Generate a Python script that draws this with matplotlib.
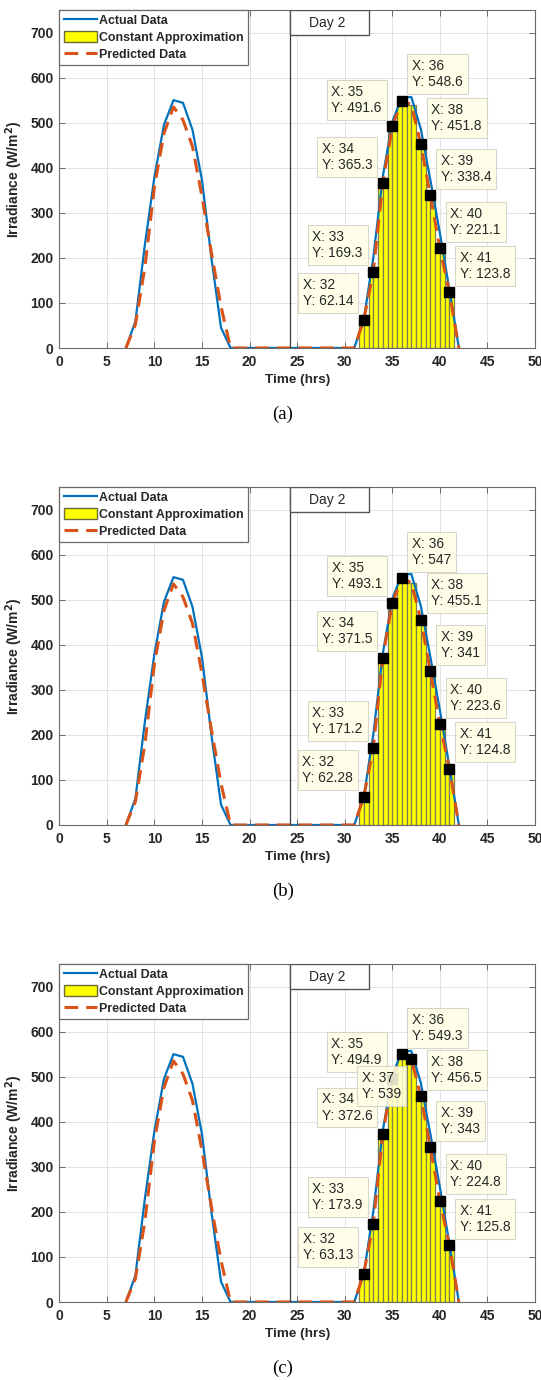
import numpy as np
import matplotlib
matplotlib.use("Agg")
import matplotlib.pyplot as plt
from matplotlib.patches import Rectangle, Patch
from matplotlib.lines import Line2D

plt.rcParams['font.family'] = ['Liberation Sans', 'DejaVu Sans']

# ---------------- data ----------------
actual_hours = list(range(7, 43))
actual_values = [0, 59, 230, 380, 495, 550, 544, 484, 372, 198, 45, 0,
                 0, 0, 0, 0, 0, 0, 0, 0, 0, 0, 0, 0,
                 0, 62, 200, 380, 502, 556, 557, 486, 373, 255, 130, 0]

pred_base_hours = list(range(7, 32))
pred_base_values = [0, 52, 180, 358, 476, 535, 506, 447, 336, 210, 92, 0,
                    0, 0, 0, 0, 0, 0, 0, 0, 0, 0, 0, 0, 0]

day2_hours = [32, 33, 34, 35, 36, 37, 38, 39, 40, 41]
pred_day2_a = [62.14, 169.3, 365.3, 491.6, 548.6, 540, 451.8, 338.4, 221.1, 123.8]
pred_day2_b = [62.28, 171.2, 371.5, 493.1, 547, 538, 455.1, 341, 223.6, 124.8]
pred_day2_c = [63.13, 173.9, 372.6, 494.9, 549.3, 539, 456.5, 343, 224.8, 125.8]
pred_end_hour = 42
pred_end_value = 0

tips_a = [32, 33, 34, 35, 36, 38, 39, 40, 41]
tips_b = [32, 33, 34, 35, 36, 38, 39, 40, 41]
tips_c = [32, 33, 34, 35, 36, 38, 39, 40, 41, 37]

captions = ['(a)', '(b)', '(c)']
x_ticks = list(range(0, 51, 5))
y_ticks = list(range(0, 701, 100))
day_line_x = 24.3

# ---------------- style ----------------
W, H = 541, 1380
BLUE = '#0072BD'
ORANGE = '#D95319'
AXC = '#6a6a6a'
TXT = '#262626'

fig = plt.figure(figsize=(W / 100, H / 100), dpi=100)
ax_l, ax_r, ax_hpx = 59.3, 535.0, 338.0
bottoms = [348, 825, 1302]

panels = [(pred_day2_a, tips_a), (pred_day2_b, tips_b), (pred_day2_c, tips_c)]

for i, (preds, tips) in enumerate(panels):
    b = bottoms[i]
    ax = fig.add_axes([ax_l / W, 1 - b / H, (ax_r - ax_l) / W, ax_hpx / H])
    ax.set_xlim(0, 50)
    ax.set_ylim(0, 750)
    ax.set_xticks(x_ticks)
    ax.set_yticks(y_ticks)
    ax.grid(True, color='#e2e2e2', lw=0.7, zorder=0)
    ax.set_axisbelow(True)
    for s in ax.spines.values():
        s.set_color(AXC)
        s.set_linewidth(0.8)
    ax.tick_params(direction='in', top=True, right=True, length=4, width=0.7,
                   color=AXC, labelcolor=TXT, labelsize=10)
    ax.tick_params(axis='x', pad=5)
    ax.tick_params(axis='y', pad=4)
    for lab in ax.get_xticklabels() + ax.get_yticklabels():
        lab.set_fontweight('bold')

    # constant approximation bars (two half-hour bars per hour)
    bx = np.concatenate([[h - 0.25, h + 0.25] for h in day2_hours])
    bh = np.repeat(preds, 2)
    ax.bar(bx, bh, width=0.5, color='#FFFF00', edgecolor='#7d7d55',
           linewidth=0.9, zorder=2)

    # actual data
    ax.plot(actual_hours, actual_values, color=BLUE, lw=1.6, zorder=3)

    # predicted data
    ph = pred_base_hours + day2_hours + [pred_end_hour]
    pv = pred_base_values + list(preds) + [pred_end_value]
    ax.plot(ph, pv, color=ORANGE, lw=2.2, ls=(0, (4.5, 2.6)), zorder=4)

    # day 2 separator and label
    ax.axvline(day_line_x, color='#3a3a3a', lw=0.9, zorder=4)
    ax.add_patch(Rectangle((day_line_x, 695.6), 32.56 - day_line_x, 750 - 695.6,
                           facecolor='white', edgecolor='#555555', lw=1.0, zorder=5))
    ax.text(28.2, 722, 'Day 2', ha='center', va='center', fontsize=10,
            color=TXT, zorder=6)

    # data tips
    tip_x = [h for h in tips]
    tip_y = [preds[day2_hours.index(h)] for h in tips]
    ax.plot(tip_x, tip_y, ls='none', marker='s', ms=6.5, color='black', zorder=7)
    for k, (hx, hy) in enumerate(zip(tip_x, tip_y)):
        if hx == 37:
            off, ha, va = (-10.5, -11.5), 'right', 'top'
        elif hx <= 35:
            off, ha, va = (-10.5, 11.5), 'right', 'bottom'
        else:
            off, ha, va = (10.5, 11.5), 'left', 'bottom'
        ax.annotate(f"X: {hx}\nY: {hy:.4g}", xy=(hx, hy), xytext=off,
                    textcoords='offset pixels', ha=ha, va=va, fontsize=9.9,
                    color=TXT, linespacing=1.2, multialignment='left',
                    bbox=dict(boxstyle='square,pad=0.35', facecolor='#FFFFE6',
                              edgecolor='#d2d2c4', lw=0.8, alpha=0.88),
                    zorder=8 + k)

    # labels
    ax.set_xlabel('Time (hrs)', fontsize=9.7, fontweight='bold', color=TXT)
    ax.xaxis.set_label_coords(0.5, -26 / ax_hpx)
    ax.set_ylabel('Irradiance (W/m$^\\mathbf{2}$)', fontsize=10, fontweight='bold',
                  color=TXT)
    ax.yaxis.set_label_coords(-(ax_l - 25) / (ax_r - ax_l), 0.5)

    # legend
    handles = [Line2D([], [], color=BLUE, lw=1.6),
               Patch(facecolor='#FFFF00', edgecolor='#6b6b3a', lw=1.0),
               Line2D([], [], color=ORANGE, lw=2.2, ls=(0, (4.5, 2.6)))]
    leg = ax.legend(handles, ['Actual Data', 'Constant Approximation', 'Predicted Data'],
                    loc='upper left', borderaxespad=0.0, fancybox=False,
                    framealpha=1, edgecolor='#6a6a6a',
                    prop={'weight': 'bold', 'size': 8.9},
                    handlelength=2.7, handletextpad=0.2, labelspacing=0.32,
                    borderpad=0.35, handleheight=1.0)
    leg.get_frame().set_linewidth(0.9)
    leg.set_zorder(20)
    for t in leg.get_texts():
        t.set_color(TXT)

    fig.text(283 / W, 1 - (b + 66) / H, captions[i], ha='center', va='center',
             fontsize=13.5, family='Liberation Serif', color='black')

fig.savefig('out.png', dpi=100)
